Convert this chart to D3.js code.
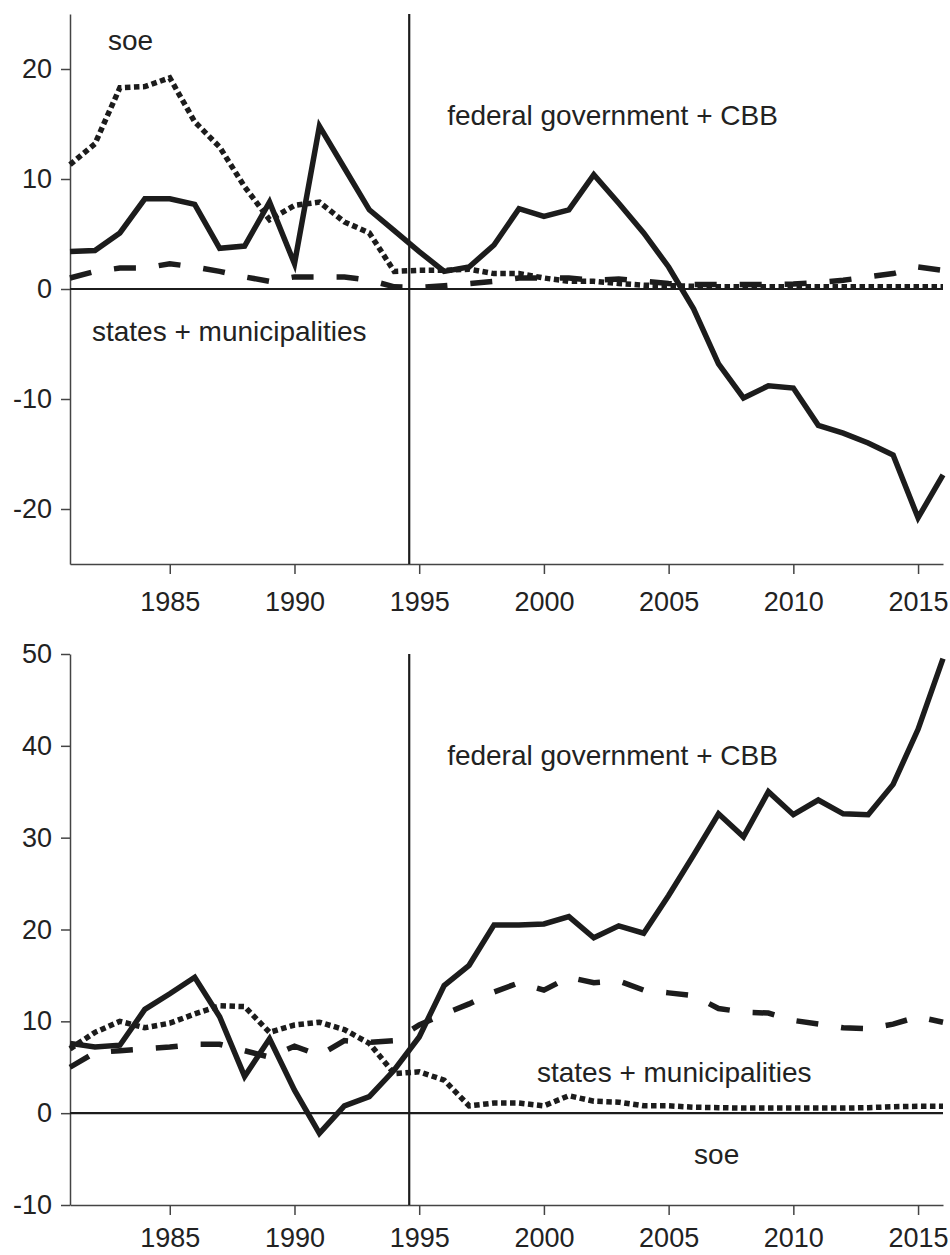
<!DOCTYPE html>
<html>
<head>
<meta charset="utf-8">
<script src="https://cdn.jsdelivr.net/npm/d3@7"></script>
<style>
  body { margin: 0; background: #fff; }
  text { font-family: "Liberation Sans", Arial, sans-serif; fill: #222; }
  .line { fill: none; stroke: #1c1c1c; stroke-width: 5.5; stroke-linejoin: miter; }
</style>
</head>
<body>
<svg id="chart"></svg>
<script>
// years on the x axis
const years = [1981, 1982, 1983, 1984, 1985, 1986, 1987, 1988, 1989, 1990,
               1991, 1992, 1993, 1994, 1995, 1996, 1997, 1998, 1999, 2000,
               2001, 2002, 2003, 2004, 2005, 2006, 2007, 2008, 2009, 2010,
               2011, 2012, 2013, 2014, 2015, 2016];

// top panel series
const topFederal = [3.4, 3.5, 5.1, 8.2, 8.2, 7.7, 3.7, 3.9, 7.9, 2.3,
                    14.8, 11.0, 7.2, 5.3, 3.4, 1.6, 2.0, 4.0, 7.3, 6.6,
                    7.2, 10.4, 7.8, 5.1, 2.0, -1.8, -6.8, -9.9, -8.8, -9.0,
                    -12.4, -13.1, -14.0, -15.1, -20.8, -16.9];
const topStates = [1.0, 1.6, 1.9, 1.9, 2.3, 2.0, 1.6, 1.1, 0.7, 1.1,
                   1.1, 1.1, 0.8, 0.2, 0.15, 0.3, 0.5, 0.7, 1.0, 1.0,
                   1.0, 0.8, 0.9, 0.7, 0.5, 0.4, 0.4, 0.4, 0.4, 0.45,
                   0.6, 0.8, 1.1, 1.4, 2.0, 1.7];
const topSoe = [11.3, 13.2, 18.3, 18.4, 19.2, 15.2, 12.9, 9.3, 6.3, 7.6,
                7.9, 6.1, 5.1, 1.6, 1.7, 1.7, 1.8, 1.4, 1.4, 1.0,
                0.7, 0.7, 0.5, 0.35, 0.3, 0.25, 0.2, 0.2, 0.2, 0.2,
                0.2, 0.2, 0.2, 0.2, 0.2, 0.2];

// bottom panel series
const bottomFederal = [7.6, 7.2, 7.4, 11.3, 13.0, 14.8, 10.5, 4.0, 8.1, 2.5,
                       -2.2, 0.8, 1.8, 4.7, 8.3, 13.9, 16.1, 20.5, 20.5, 20.6,
                       21.4, 19.1, 20.4, 19.6, 23.7, 28.1, 32.6, 30.1, 35.0, 32.5,
                       34.1, 32.6, 32.5, 35.8, 41.8, 49.5];
const bottomStates = [5.0, 6.6, 6.8, 7.0, 7.2, 7.5, 7.5, 6.8, 6.1, 7.3,
                      6.3, 7.9, 7.7, 7.9, 9.6, 10.8, 11.9, 13.2, 14.2, 13.4,
                      14.8, 14.2, 14.4, 13.4, 13.1, 12.8, 11.4, 11.0, 10.9, 10.1,
                      9.7, 9.3, 9.2, 9.7, 10.5, 9.9];
const bottomSoe = [7.0, 8.8, 10.0, 9.3, 9.8, 10.8, 11.7, 11.6, 8.8, 9.6,
                   9.9, 9.1, 7.6, 4.3, 4.5, 3.6, 0.8, 1.1, 1.1, 0.8,
                   1.9, 1.3, 1.2, 0.8, 0.8, 0.65, 0.6, 0.55, 0.55, 0.55,
                   0.55, 0.55, 0.6, 0.7, 0.75, 0.75];

// ticks
const xTicks = [1985, 1990, 1995, 2000, 2005, 2010, 2015];
const topYTicks = [-20, -10, 0, 10, 20];
const bottomYTicks = [-10, 0, 10, 20, 30, 40, 50];

// break year (vertical line)
const breakYear = 1994.6;

const svgWidth = 950,
      svgHeight = 1255;

const chart = d3.select('#chart')
    .attr("width", svgWidth)
    .attr("height", svgHeight);

const xScale = d3.scaleLinear().domain([1981, 2016]).range([70, 943]);

const dashStyle = {
    solid: null,
    dashed: "22,23",
    dotted: "5.5,3.5"
};

function drawPanel(cfg) {
    var yScale = d3.scaleLinear().domain(cfg.domain).range([cfg.bottom, cfg.top]);
    var g = chart.append("g");

    // x axis
    var xAxis = d3.axisBottom(xScale).tickValues(xTicks).tickFormat(d3.format("d"))
        .tickSize(10).tickSizeOuter(0).tickPadding(cfg.xPad);
    var gx = g.append("g")
        .attr("transform", "translate(0," + cfg.bottom + ")")
        .call(xAxis);
    gx.selectAll(".tick text").attr("fill", "#444");

    // y axis, plain hyphen for negatives
    var yAxis = d3.axisLeft(yScale).tickValues(cfg.yTicks)
        .tickFormat(function(d) { return String(d); })
        .tickSize(9).tickSizeOuter(0).tickPadding(9);
    var gy = g.append("g")
        .attr("transform", "translate(" + xScale(1981) + ",0)")
        .call(yAxis);
    gy.selectAll(".tick text").attr("fill", "#222");

    g.selectAll(".domain, .tick line")
        .attr("stroke", "#444")
        .attr("stroke-width", 1.5);
    g.selectAll(".tick text")
        .style("font-size", "27px");

    // zero line
    g.append("line")
        .attr("x1", xScale(1981)).attr("x2", xScale(2016))
        .attr("y1", yScale(0)).attr("y2", yScale(0))
        .attr("stroke", "#1c1c1c").attr("stroke-width", 2.2);

    // break line
    g.append("line")
        .attr("x1", xScale(breakYear)).attr("x2", xScale(breakYear))
        .attr("y1", cfg.top).attr("y2", cfg.bottom)
        .attr("stroke", "#1c1c1c").attr("stroke-width", 2.2);

    var valueline = d3.line()
        .x(function(d, i) { return xScale(years[i]); })
        .y(function(d) { return yScale(d); });

    cfg.series.forEach(function(s) {
        g.append("path")
            .datum(s.values)
            .attr("class", "line")
            .attr("d", valueline)
            .attr("stroke-dasharray", dashStyle[s.style]);
    });

    cfg.labels.forEach(function(l) {
        g.append("text")
            .attr("x", xScale(l.x))
            .attr("y", yScale(l.y))
            .style("font-size", "28px")
            .text(l.text);
    });
}

drawPanel({
    top: 14, bottom: 564, domain: [-25, 25], yTicks: topYTicks, xPad: 18,
    series: [
        {values: topStates, style: "dashed"},
        {values: topSoe, style: "dotted"},
        {values: topFederal, style: "solid"}
    ],
    labels: [
        {text: "soe", x: 1982.52, y: 21.7},
        {text: "federal government + CBB", x: 1996.12, y: 14.9},
        {text: "states + municipalities", x: 1981.88, y: -4.73}
    ]
});

// bottom labels sit a bit higher so they stay inside the page
drawPanel({
    top: 654, bottom: 1205, domain: [-10, 50], yTicks: bottomYTicks, xPad: 13,
    series: [
        {values: bottomStates, style: "dashed"},
        {values: bottomSoe, style: "dotted"},
        {values: bottomFederal, style: "solid"}
    ],
    labels: [
        {text: "federal government + CBB", x: 1996.12, y: 37.9},
        {text: "states + municipalities", x: 1999.72, y: 3.35},
        {text: "soe", x: 2006.02, y: -5.49}
    ]
});
</script>
</body>
</html>
